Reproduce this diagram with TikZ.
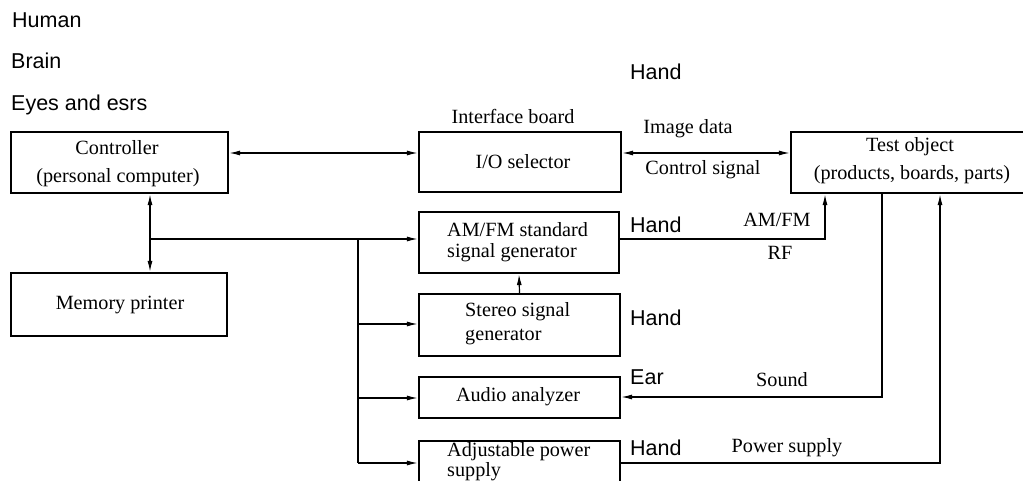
\documentclass[tikz,border=0pt]{standalone}
\usepackage{fontspec}
\setmainfont{Liberation Serif}
\newfontfamily\labelsans{Liberation Sans}
\usetikzlibrary{arrows.meta}
\begin{document}
\begin{tikzpicture}[x=1pt,y=-1pt,
  box/.style={draw, line width=2.3pt, inner sep=0pt},
  serif/.style={font=\fontsize{20.2}{24}\selectfont, inner sep=0pt},
  sans/.style={font=\labelsans\fontsize{21.5}{25}\selectfont, inner sep=0pt},
  conn/.style={line width=1.2pt},
  tipend/.style={-{Latex[length=11pt,width=5pt]}},
  tipboth/.style={{Latex[length=11pt,width=5pt]}-{Latex[length=11pt,width=5pt]}}
]
\useasboundingbox (0,0) rectangle (1023,481);
\clip (0,0) rectangle (1023,481);

% boxes
\node[box, minimum width=217pt, minimum height=61pt] (ctrl) at (119.5,162.5) {};
\node[box, minimum width=216pt, minimum height=63pt] (mem) at (119,304.5) {};
\node[box, minimum width=202pt, minimum height=60pt] (io) at (520,162) {};
\node[box, minimum width=200pt, minimum height=61pt] (amfm) at (519,242.5) {};
\node[box, minimum width=201pt, minimum height=62pt] (stereo) at (519.5,325) {};
\node[box, minimum width=201pt, minimum height=41pt] (audio) at (519.5,397.5) {};
\node[box, minimum width=201pt, minimum height=70pt] (power) at (519.5,476) {};
\node[box, minimum width=239pt, minimum height=61pt] (test) at (910.5,162.5) {};

% box texts
\node[serif] (tctrl1) at (117,148) {Controller};
\node[serif] (tctrl2) at (118,178) {(personal computer)};
\node[serif] (tmem) at (120,305) {Memory printer};
\node[serif] (tio) at (523,162) {I/O selector};
\node[serif, anchor=west] (tamfm1) at (447,230) {AM/FM standard};
\node[serif, anchor=west] (tamfm2) at (447,253) {signal generator};
\node[serif, anchor=west] (tst1) at (465,312) {Stereo signal};
\node[serif, anchor=west] (tst2) at (465,337) {generator};
\node[serif] (taud) at (518,397) {Audio analyzer};
\node[serif, anchor=west] (tpow1) at (447,452) {Adjustable power};
\node[serif, anchor=west] (tpow2) at (447,472) {supply};
\node[serif] (ttest1) at (910,147) {Test object};
\node[serif] (ttest2) at (912,175) {(products, boards, parts)};

% labels
\node[serif] (lif) at (513,116) {Interface board};
\node[serif] (limg) at (688,129) {Image data};
\node[serif] (lctl) at (703,170) {Control signal};
\node[serif] (lamfm) at (777,220) {AM/FM};
\node[serif] (lrf) at (780,253) {RF};
\node[serif] (lsound) at (782,380) {Sound};
\node[serif] (lpower) at (787,448) {Power supply};

\node[sans, anchor=west] (human) at (12,20) {Human};
\node[sans, anchor=west] (brain) at (11,61) {Brain};
\node[sans, anchor=west] (eyes) at (11,105) {Eyes and esrs};
\node[sans, anchor=west] (hand0) at (630,72) {Hand};
\node[sans, anchor=west] (hand1) at (630,225) {Hand};
\node[sans, anchor=west] (hand2) at (630,318) {Hand};
\node[sans, anchor=west] (ear) at (630,377) {Ear};
\node[sans, anchor=west] (hand3) at (630,448) {Hand};

% helper coordinates
\coordinate (yA) at (0,153);
\coordinate (xA) at (150,0);
\coordinate (jA) at (150,239);
\coordinate (bus) at (358,239);
\coordinate (busS) at (358,324);
\coordinate (busA) at (358,398);
\coordinate (busP) at (358,463);
\coordinate (rfC) at (825,239);
\coordinate (sndC) at (882,397);
\coordinate (powC) at (940,463);

% connectors
\draw[conn, tipboth] (ctrl.east |- yA) -- (io.west |- yA);
\draw[conn, tipboth] (io.east |- yA) -- (test.west |- yA);
\draw[conn, tipboth] (ctrl.south -| xA) -- (mem.north -| xA);
\draw[conn, tipend] (jA) -- (amfm.west |- jA);
\draw[conn] (bus) -- (busP);
\draw[conn, tipend] (busS) -- (stereo.west |- busS);
\draw[conn, tipend] (busA) -- (audio.west |- busA);
\draw[conn, tipend] (busP) -- (power.west |- busP);
\draw[conn, tipend] (stereo.north) -- (amfm.south);
\draw[conn, tipend] (amfm.east |- rfC) -- (rfC) -- (test.south -| rfC);
\draw[conn, tipend] (test.south -| sndC) -- (sndC) -- (audio.east |- sndC);
\draw[conn, tipend] (power.east |- powC) -- (powC) -- (test.south -| powC);
\end{tikzpicture}
\end{document}
